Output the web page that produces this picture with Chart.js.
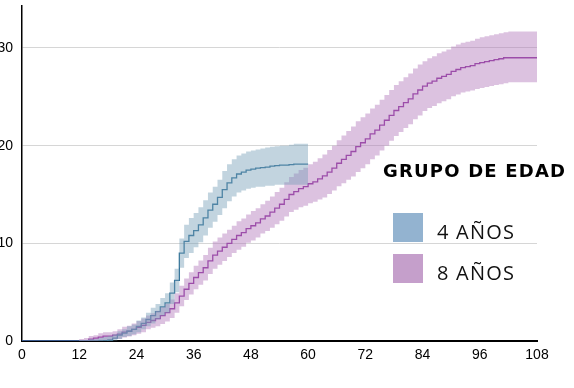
<!DOCTYPE html>
<html lang="es">
<head>
<meta charset="utf-8">
<script src="https://cdn.jsdelivr.net/npm/chart.js@4/dist/chart.umd.min.js"></script>
<style>
  html, body { margin: 0; padding: 0; background: #fff; }
  #wrap { position: relative; width: 574px; height: 388px; overflow: hidden; }
  #chart { position: absolute; left: 0; top: 0; }
  .legend { position: absolute; left: 383px; top: 161px; font-family: 'DejaVu Sans', sans-serif; }
  .legend h3 { margin: 0; font-size: 18px; font-weight: bold; letter-spacing: 1.2px; color: #000; white-space: nowrap; line-height: 20px; }
  .legend .item { position: absolute; left: 10px; width: 200px; height: 30px; }
  .legend .box { position: absolute; left: 0; top: 0; width: 30px; height: 29px; }
  .legend .lbl { position: absolute; left: 44px; top: 4px; font-family: 'Open Sans', sans-serif; font-weight: 400; font-size: 20px; letter-spacing: 1.2px; color: #111; line-height: 30px; white-space: nowrap; }
</style>
</head>
<body>
<div id="wrap">
  <canvas id="chart" width="574" height="388"></canvas>
  <div class="legend" id="legend"></div>
</div>
<script>
// Grupos
const groupTitle = 'GRUPO DE EDAD';
const groupLabels = ['4 AÑOS', '8 AÑOS'];

// Ejes: meses (X) y valores (Y)
const xTicks = [0, 12, 24, 36, 48, 60, 72, 84, 96, 108];
const yTicks = [0, 10, 20, 30];

// 4 años: un valor por mes, de 0 a 60
const values4 = [0, 0, 0, 0, 0, 0, 0, 0, 0, 0, 0, 0, 0, 0, 0, 0, 0, 0,
    0.1, 0.3, 0.6, 0.8, 1.0, 1.2, 1.5, 1.8, 2.2, 2.6, 3.0, 3.5, 3.9, 4.9, 6.2, 9.0, 10.2, 10.8, 11.3, 11.9, 12.6, 13.4,
    14.0, 14.7, 15.5, 16.2, 16.7, 17.1, 17.3, 17.5, 17.6, 17.7, 17.75, 17.8, 17.9, 17.95, 18.0, 18.0, 18.05, 18.1, 18.1, 18.1, 18.1];
const lower4 = [0, 0, 0, 0, 0, 0, 0, 0, 0, 0, 0, 0, 0, 0, 0, 0, 0, 0, 0,
    0.05, 0.2, 0.4, 0.5, 0.7, 0.9, 1.2, 1.5, 1.8, 2.2, 2.6, 2.9, 3.8, 5.0, 7.5, 8.5, 9.0, 9.6, 10.1, 10.8, 11.6,
    12.2, 12.9, 13.6, 14.3, 14.8, 15.2, 15.4, 15.6, 15.7, 15.8, 15.8, 15.9, 15.9, 16.0, 16.0, 16.0, 16.0, 16.0, 16.0, 16.0, 16.0];
const upper4 = [0, 0, 0, 0, 0, 0, 0, 0, 0, 0, 0, 0,
    0.1, 0.1, 0.2, 0.2, 0.3, 0.4, 0.5, 0.7, 1.0, 1.2, 1.5, 1.7, 2.1, 2.4, 2.9, 3.4, 3.8, 4.4, 4.9, 6.0, 7.4, 10.5, 11.9, 12.6,
    13.1, 13.7, 14.4, 15.2, 15.8, 16.5, 17.4, 18.1, 18.6, 19.0, 19.2, 19.4, 19.5, 19.6, 19.7, 19.8, 19.9, 19.95, 20.0, 20.0, 20.1, 20.2, 20.2, 20.2, 20.2];

// 8 años: un valor por mes, de 0 a 108
const values8 = [0, 0, 0, 0, 0, 0, 0, 0, 0, 0, 0, 0, 0, 0,
    0.2, 0.3, 0.4, 0.5, 0.5, 0.6, 0.7, 0.9, 1.0, 1.2, 1.4, 1.6, 1.9, 2.1, 2.3, 2.6, 2.9, 3.3, 3.9, 4.6, 5.3, 5.9, 6.5, 7.0,
    7.5, 8.2, 8.8, 9.2, 9.6, 10.0, 10.4, 10.8, 11.1, 11.5, 11.8, 12.1, 12.5, 12.8, 13.2, 13.6, 14.0, 14.5, 15.0, 15.3, 15.6, 15.8,
    16.1, 16.3, 16.6, 16.9, 17.3, 17.7, 18.2, 18.6, 19.0, 19.4, 19.9, 20.3, 20.7, 21.2, 21.6, 22.1, 22.6, 23.1, 23.6, 24.0,
    24.4, 24.8, 25.3, 25.7, 26.1, 26.4, 26.6, 26.9, 27.1, 27.3, 27.6, 27.8, 28.0, 28.1, 28.2, 28.4, 28.5, 28.6, 28.7, 28.8,
    28.9, 29.0, 29.0, 29.0, 29.0, 29.0, 29.0, 29.0, 29.0];
const lower8 = [0, 0, 0, 0, 0, 0, 0, 0, 0, 0, 0, 0, 0, 0, 0, 0,
    0.05, 0.1, 0.1, 0.2, 0.2, 0.35, 0.45, 0.6, 0.75, 0.9, 1.2, 1.35, 1.5, 1.75, 2.0, 2.35, 2.9, 3.55, 4.2, 4.75, 5.3, 5.75,
    6.2, 6.85, 7.4, 7.8, 8.2, 8.6, 9.0, 9.35, 9.65, 10.05, 10.3, 10.6, 11.0, 11.25, 11.6, 11.95, 12.3, 12.75, 13.2, 13.45, 13.7, 13.85,
    14.1, 14.25, 14.5, 14.7, 15.05, 15.4, 15.85, 16.15, 16.5, 16.85, 17.3, 17.7, 18.1, 18.6, 19.0, 19.5, 20.0, 20.5, 21.0, 21.4,
    21.8, 22.2, 22.7, 23.1, 23.55, 23.85, 24.05, 24.35, 24.55, 24.75, 25.05, 25.25, 25.45, 25.55, 25.65, 25.8, 25.9, 26.0, 26.1, 26.2,
    26.3, 26.4, 26.5, 26.5, 26.5, 26.5, 26.5, 26.5, 26.5];
const upper8 = [0, 0, 0, 0, 0, 0, 0, 0, 0, 0, 0, 0,
    0.2, 0.3, 0.5, 0.6, 0.8, 0.9, 0.9, 1.0, 1.2, 1.45, 1.55, 1.8, 2.05, 2.3, 2.6, 2.85, 3.1, 3.45, 3.8, 4.25, 4.9, 5.65, 6.4, 7.05, 7.7, 8.25,
    8.8, 9.55, 10.2, 10.6, 11.0, 11.4, 11.8, 12.25, 12.55, 12.95, 13.3, 13.6, 14.0, 14.35, 14.8, 15.25, 15.7, 16.25, 16.8, 17.15, 17.5, 17.75,
    18.1, 18.35, 18.7, 19.1, 19.55, 20.0, 20.55, 21.05, 21.5, 21.95, 22.5, 22.9, 23.3, 23.8, 24.2, 24.7, 25.2, 25.7, 26.2, 26.6,
    27.0, 27.4, 27.9, 28.3, 28.65, 28.95, 29.15, 29.45, 29.65, 29.85, 30.15, 30.35, 30.55, 30.65, 30.75, 30.95, 31.1, 31.2, 31.3, 31.4,
    31.5, 31.6, 31.7, 31.7, 31.7, 31.7, 31.7, 31.7, 31.7];

const lineColors = ['#2c6e95', '#8a2b9c'];
const bandColors = ['rgba(120, 160, 185, 0.45)', 'rgba(177, 119, 186, 0.45)'];
const boxColors = ['#93b3d0', '#c59fcb'];

// cada valor corresponde al mes de su posición
function pts(ys) {
    return ys.map((y, month) => ({ x: month, y: y }));
}

function band(lo, hi, color) {
    return [
        { data: pts(lo), stepped: true, borderWidth: 0, pointRadius: 0, fill: false },
        { data: pts(hi), stepped: true, borderWidth: 0, pointRadius: 0, fill: '-1', backgroundColor: color }
    ];
}

function line(ys, color) {
    return { data: pts(ys), stepped: true, borderColor: color, borderWidth: 1.3, pointRadius: 0, fill: false };
}

const datasets = [
    ...band(lower4, upper4, bandColors[0]),
    ...band(lower8, upper8, bandColors[1]),
    line(values4, lineColors[0]),
    line(values8, lineColors[1])
];

const tickFont = { family: 'Liberation Sans', size: 14 };

new Chart(document.getElementById('chart'), {
    type: 'line',
    data: { datasets: datasets },
    options: {
        responsive: false,
        animation: false,
        layout: { padding: { top: 6, right: 37, left: 0, bottom: 0 } },
        plugins: { legend: { display: false }, tooltip: { enabled: false } },
        scales: {
            x: {
                type: 'linear',
                min: 0,
                max: 108,
                afterBuildTicks: s => { s.ticks = xTicks.map(v => ({ value: v })); },
                afterFit: s => { s.height = 47; s.paddingLeft = 0; s.paddingRight = 0; },
                grid: { display: false, drawTicks: false },
                border: { display: true, color: '#000', width: 2 },
                ticks: { color: '#000', font: tickFont, padding: 6, maxRotation: 0 }
            },
            y: {
                min: 0,
                max: 34.3,
                afterBuildTicks: s => { s.ticks = yTicks.map(v => ({ value: v })); },
                afterFit: s => { s.width = 22; s.paddingTop = 0; s.paddingBottom = 0; },
                grid: { color: ctx => ctx.tick.value === 0 ? 'rgba(0,0,0,0)' : '#d6d6d6', lineWidth: 1, drawTicks: false },
                border: { display: true, color: '#000', width: 1.5 },
                ticks: { color: '#000', font: tickFont, padding: 9 }
            }
        }
    }
});

// Leyenda
const legend = document.getElementById('legend');
legend.innerHTML = '<h3>' + groupTitle + '</h3>';
groupLabels.forEach((label, i) => {
    const item = document.createElement('div');
    item.className = 'item';
    item.style.top = (52 + i * 41) + 'px';
    item.innerHTML = '<div class="box" style="background:' + boxColors[i] + '"></div><div class="lbl">' + label + '</div>';
    legend.appendChild(item);
});
</script>
</body>
</html>
